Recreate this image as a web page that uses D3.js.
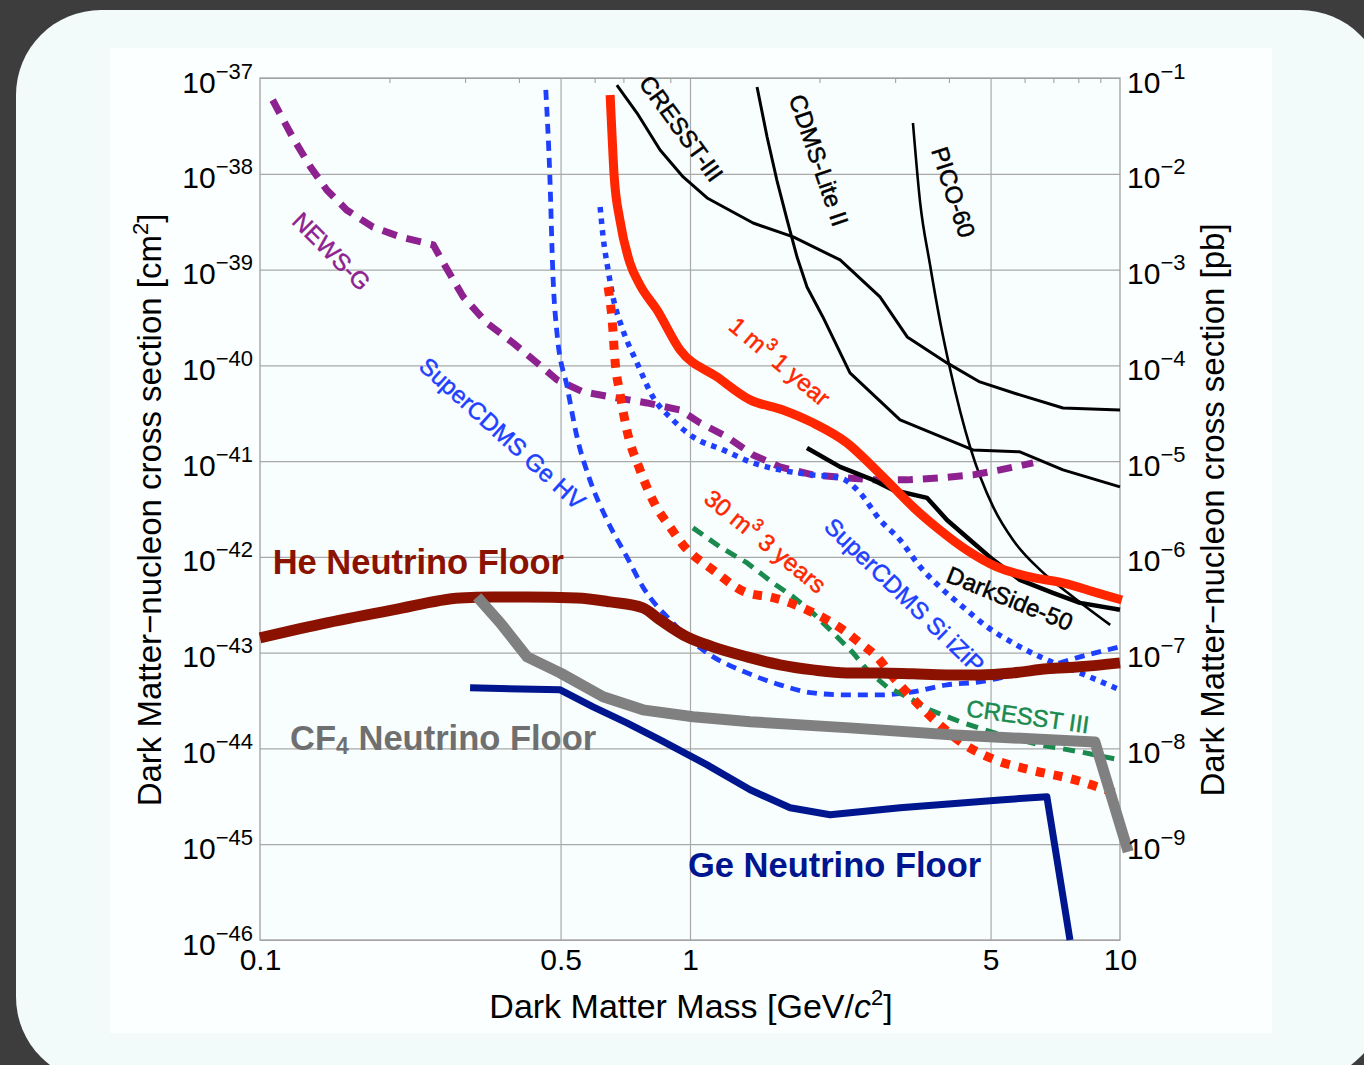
<!DOCTYPE html>
<html><head><meta charset="utf-8">
<script src="https://cdn.jsdelivr.net/npm/d3@7"></script>
<style>
body{margin:0;background:#3d3d3d;}
svg{display:block;font-family:"Liberation Sans",Arial,Helvetica,sans-serif;}
</style>
</head><body>
<svg id="chart" width="1364" height="1065"></svg>
<script>
// ---------------- data: [mass GeV/c^2, cross section cm^2] ----------------
const cresst3Black = [[0.676,8.45e-38],[0.753,4.31e-38],[0.852,1.77e-38],[0.964,9.26e-39],[1.096,5.59e-39],[1.402,3.06e-39],[1.738,2.19e-39],[2.234,1.26e-39],[2.766,5.18e-40],[3.20,1.98e-40],[3.96,1.06e-40],[4.72,6.71e-41],[5.85,4.91e-41],[7.37,3.59e-41],[10,3.42e-41]];
const cdmsLite = [[1.432,8.05e-38],[1.511,2.42e-38],[1.592,8.61e-39],[1.682,3.30e-39],[1.774,1.35e-39],[1.871,6.57e-40],[2.037,3.20e-40],[2.355,8.34e-41],[3.08,2.69e-41],[4.55,1.31e-41],[5.85,1.25e-41],[7.37,8.10e-42],[10,5.38e-42]];
const pico60 = [[3.30,3.39e-38],[3.43,4.96e-39],[3.61,1.17e-39],[3.81,2.98e-40],[4.03,8.95e-41],[4.48,1.41e-41],[5.07,3.33e-42],[5.64,1.50e-42],[6.52,7.31e-43],[7.78,3.82e-43],[9.49,1.95e-43]];
const darkSide50 = [[1.871,1.37e-41],[2.234,8.70e-42],[2.664,6.37e-42],[2.966,5.00e-42],[3.56,4.13e-42],[3.96,2.43e-42],[4.48,1.50e-42],[5.07,9.30e-43],[5.85,5.75e-43],[6.98,4.21e-43],[8.07,3.31e-43],[10,2.80e-43]];
const newsG = [[0.107,5.89e-38],[0.119,2.42e-38],[0.131,1.18e-38],[0.143,6.78e-39],[0.159,4.19e-39],[0.183,2.78e-39],[0.212,2.19e-39],[0.253,1.81e-39],[0.267,1.17e-39],[0.297,5.18e-40],[0.337,2.77e-40],[0.388,1.71e-40],[0.441,1.06e-40],[0.491,7.05e-41],[0.564,5.28e-41],[0.676,4.57e-41],[0.794,4.05e-41],[0.948,3.42e-41],[1.055,2.51e-41],[1.219,1.79e-41],[1.402,1.16e-41],[1.619,8.70e-42],[1.931,7.18e-42],[2.317,6.68e-42],[2.664,6.37e-42],[3.20,6.37e-42],[3.81,6.68e-42],[4.55,7.18e-42],[5.26,8.10e-42],[6.28,9.57e-42]];
const superCdmsGeHV = [[0.462,7.50e-38],[0.472,9.70e-39],[0.480,8.79e-40],[0.491,2.08e-40],[0.518,5.96e-41],[0.546,1.79e-41],[0.585,6.37e-42],[0.641,2.43e-42],[0.713,1.0e-42],[0.777,4.86e-43],[0.912,2.05e-43],[1.096,9.95e-44],[1.358,6.15e-44],[1.619,4.61e-44],[1.931,3.80e-44],[2.317,3.62e-44],[2.766,3.62e-44],[3.30,3.90e-44],[3.96,4.61e-44],[4.72,4.96e-44],[5.64,5.86e-44],[6.76,7.11e-44],[8.07,9.04e-44],[10,1.15e-43]];
const superCdmsSiIZIP = [[0.618,4.50e-39],[0.628,2.19e-39],[0.645,9.91e-40],[0.662,5.18e-40],[0.698,2.34e-40],[0.753,1.06e-40],[0.820,4.68e-41],[0.912,2.69e-41],[1.016,1.79e-41],[1.194,1.31e-41],[1.402,9.57e-42],[1.619,8.10e-42],[1.931,7.18e-42],[2.234,6.68e-42],[2.485,4.66e-42],[2.766,2.43e-42],[3.08,1.50e-42],[3.43,7.86e-43],[3.81,4.86e-43],[4.31,3.01e-43],[4.91,1.86e-43],[5.64,1.26e-43],[6.76,8.41e-44],[8.07,6.15e-44],[10,4.09e-44]];
const cresst3Green = [[1.016,2.01e-42],[1.174,1.27e-42],[1.358,8.65e-43],[1.560,5.35e-43],[1.738,3.82e-43],[1.931,2.60e-43],[2.153,1.61e-43],[2.395,9.95e-44],[2.582,6.61e-44],[2.871,4.39e-44],[3.20,3.46e-44],[3.61,2.53e-44],[4.25,1.90e-44],[5.26,1.39e-44],[6.52,1.09e-44],[8.07,9.22e-45],[10,7.60e-45]];
const news30m3 = [[0.645,6.57e-40],[0.659,2.98e-40],[0.670,1.06e-40],[0.687,5.15e-41],[0.713,2.12e-41],[0.765,8.10e-42],[0.830,3.49e-42],[0.898,2.06e-42],[0.964,1.33e-42],[1.130,7.31e-43],[1.358,4.21e-43],[1.535,3.82e-43],[1.709,3.31e-43],[1.871,2.80e-43],[2.083,2.20e-43],[2.270,1.73e-43],[2.485,1.26e-43],[2.721,9.04e-44],[2.966,5.58e-44],[3.37,2.99e-44],[3.81,1.76e-44],[4.36,1.09e-44],[5.12,7.60e-45],[6.18,5.98e-45],[7.86,4.70e-45],[10,3.28e-45]];
const news1m3 = [[0.652,6.65e-38],[0.659,2.42e-38],[0.666,9.70e-39],[0.687,3.30e-39],[0.725,1.17e-39],[0.765,6.90e-40],[0.838,3.79e-40],[0.948,1.45e-40],[1.156,7.57e-41],[1.380,4.36e-41],[1.645,3.42e-41],[1.931,2.51e-41],[2.317,1.55e-41],[2.664,8.70e-42],[2.966,5.38e-42],[3.30,3.33e-42],[3.81,1.91e-42],[4.40,1.18e-42],[5.17,7.86e-43],[6.18,6.18e-43],[7.37,5.35e-43],[8.85,4.21e-43],[10.1,3.55e-43]];
const heFloor = [[0.1,1.43e-43],[0.143,2.05e-43],[0.204,2.80e-43],[0.292,3.73e-43],[0.348,3.82e-43],[0.418,3.82e-43],[0.546,3.73e-43],[0.652,3.39e-43],[0.777,2.94e-43],[0.852,2.20e-43],[0.984,1.46e-43],[1.130,1.15e-43],[1.358,9.04e-44],[1.619,7.46e-44],[1.931,6.61e-44],[2.317,6.15e-44],[2.766,6.15e-44],[3.30,6.01e-44],[3.96,5.86e-44],[4.72,5.86e-44],[5.64,6.15e-44],[6.76,6.78e-44],[8.07,7.11e-44],[10,7.82e-44]];
const geFloor = [[0.308,4.30e-44],[0.499,4.09e-44],[0.595,2.72e-44],[0.713,1.85e-44],[0.852,1.23e-44],[1.096,6.74e-45],[1.380,3.70e-45],[1.709,2.40e-45],[2.117,2.03e-45],[3.08,2.40e-45],[5.26,2.90e-45],[6.76,3.13e-45],[7.65,1.0e-46]];
const cf4Floor = [[0.320,3.82e-43],[0.362,2.05e-43],[0.418,9.04e-44],[0.499,6.15e-44],[0.628,3.46e-44],[0.777,2.53e-44],[1.016,2.14e-44],[1.380,1.90e-44],[2.355,1.64e-44],[4.03,1.39e-44],[6.87,1.23e-44],[8.74,1.17e-44],[10.45,8.34e-46]];

// ticks
const xTickValues = [0.1, 0.5, 1, 5, 10];
const xTickLabels = ["0.1", "0.5", "1", "5", "10"];
const xGridValues = [0.5, 1, 5];
const xMinorValues = [0.2,0.3,0.4,0.6,0.7,0.8,0.9,2,3,4,6,7,8,9];
const yLeftExponents = [-37,-38,-39,-40,-41,-42,-43,-44,-45,-46];
const yRightExponents = [-1,-2,-3,-4,-5,-6,-7,-8,-9];

// ---------------- layout ----------------
const svg = d3.select("#chart");
const plot = {l:260, r:1120, t:78, b:940};

svg.append("rect").attr("x",16).attr("y",10).attr("width",1369).attr("height",1072).attr("rx",85).attr("fill","#f3fafa");
svg.append("rect").attr("x",110).attr("y",48).attr("width",1162).attr("height",985).attr("fill","#fbffff");

const x = d3.scaleLog().domain([0.1,10]).range([plot.l, plot.r]);
const y = d3.scaleLog().domain([1e-46,1e-37]).range([plot.b, plot.t]);
const yR = d3.scaleLog().domain([1e-10,1e-1]).range([plot.b, plot.t]);

svg.append("rect").attr("x",plot.l).attr("y",plot.t).attr("width",plot.r-plot.l).attr("height",plot.b-plot.t).attr("fill","#f8fefe");

// grid
const gridColor = "#a9a9a9";
const gx = svg.append("g").attr("transform",`translate(0,${plot.b})`)
  .call(d3.axisBottom(x).tickValues(xGridValues).tickSize(-(plot.b-plot.t)).tickFormat(""));
gx.select(".domain").remove();
gx.selectAll("line").attr("stroke",gridColor).attr("stroke-width",1.2);
const gy = svg.append("g").attr("transform",`translate(${plot.l},0)`)
  .call(d3.axisLeft(y).tickValues(yLeftExponents.map(e=>Math.pow(10,e))).tickSize(-(plot.r-plot.l)).tickFormat(""));
gy.select(".domain").remove();
gy.selectAll("line").attr("stroke",gridColor).attr("stroke-width",1.2);

const gt = svg.append("g").attr("transform",`translate(0,${plot.t})`)
  .call(d3.axisTop(x).tickValues(xMinorValues).tickSize(-5).tickFormat(""));
gt.select(".domain").remove();
gt.selectAll("line").attr("stroke","#999").attr("stroke-width",1);

svg.append("rect").attr("x",plot.l).attr("y",plot.t).attr("width",plot.r-plot.l).attr("height",plot.b-plot.t)
  .attr("fill","none").attr("stroke","#a0a0a0").attr("stroke-width",1.3);

// ---------------- curves ----------------
const lineLin = d3.line().x(d=>x(d[0])).y(d=>y(d[1]));
const lineSmooth = d3.line().x(d=>x(d[0])).y(d=>y(d[1])).curve(d3.curveMonotoneX);

function draw(data, gen, color, width, dash) {
  svg.append("path").datum(data).attr("d", gen).attr("fill","none")
    .attr("stroke",color).attr("stroke-width",width)
    .attr("stroke-dasharray", dash || null)
    .attr("stroke-linecap","butt").attr("stroke-linejoin","round");
}
const C = {purple:"#8e2190", blue:"#1f3fff", red:"#ff2600", green:"#1a8a4e", black:"#000", he:"#8b1200", gray:"#808080", ge:"#00168f"};

draw(cresst3Black, lineLin, C.black, 3);
draw(cdmsLite, lineLin, C.black, 3);
draw(pico60, lineSmooth, C.black, 2.6);
draw(newsG, lineLin, C.purple, 7, "15 10");
draw(superCdmsGeHV, lineSmooth, C.blue, 4.8, "10 7");
draw(superCdmsSiIZIP, lineSmooth, C.blue, 5.5, "5.5 6");
draw(cresst3Green, lineLin, C.green, 5, "12 8");
draw(news30m3, lineSmooth, C.red, 9, "9 9");
draw(darkSide50, lineLin, C.black, 4.5);
draw(news1m3, lineSmooth, C.red, 9);
draw(heFloor, lineSmooth, C.he, 11);
draw(geFloor, lineLin, C.ge, 7);
draw(cf4Floor, lineLin, C.gray, 11);

// ---------------- axes labels ----------------
const tickFont = 30, supFont = 22;
const ax = svg.append("g").attr("transform",`translate(0,${plot.b})`)
  .call(d3.axisBottom(x).tickValues(xTickValues).tickSize(0).tickFormat((d,i)=>xTickLabels[i]));
ax.select(".domain").remove();
ax.selectAll("text").attr("y",30).attr("dy",null).attr("font-size",tickFont).attr("font-family","Liberation Sans, Arial, sans-serif").attr("fill","#000");

function powLabels(g) {
  g.select(".domain").remove();
  g.selectAll(".tick text").each(function(d){
    const e = Math.round(Math.log10(d));
    const t = d3.select(this).text(null).attr("dy",null).attr("y",14)
      .attr("font-size",tickFont).attr("font-family","Liberation Sans, Arial, sans-serif").attr("fill","#000");
    t.append("tspan").text("10");
    t.append("tspan").attr("dy",-14).attr("font-size",supFont).text("\u2212" + Math.abs(e));
  });
}
const al = svg.append("g").attr("transform",`translate(${plot.l},0)`)
  .call(d3.axisLeft(y).tickValues(yLeftExponents.map(e=>Math.pow(10,e))).tickSize(0).tickPadding(7));
powLabels(al);
const ar = svg.append("g").attr("transform",`translate(${plot.r},0)`)
  .call(d3.axisRight(yR).tickValues(yRightExponents.map(e=>Math.pow(10,e))).tickSize(0).tickPadding(7));
powLabels(ar);

const xt = svg.append("text").attr("x",691).attr("y",1018).attr("text-anchor","middle").attr("font-size",34).attr("fill","#000");
xt.append("tspan").text("Dark Matter Mass [GeV/");
xt.append("tspan").attr("font-style","italic").text("c");
xt.append("tspan").attr("dy",-13).attr("font-size",22).text("2");
xt.append("tspan").attr("dy",13).text("]");

const ylt = svg.append("text").attr("transform","translate(161,510) rotate(-90)").attr("text-anchor","middle").attr("font-size",33).attr("fill","#000");
ylt.append("tspan").text("Dark Matter\u2212nucleon cross section [cm");
ylt.append("tspan").attr("dy",-13).attr("font-size",22).text("2");
ylt.append("tspan").attr("dy",13).text("]");

svg.append("text").attr("transform","translate(1224,510) rotate(-90)").attr("text-anchor","middle").attr("font-size",33).attr("fill","#000")
  .text("Dark Matter\u2212nucleon cross section [pb]");

// ---------------- curve labels (anchored in data coordinates) ----------------
const curveLabels = [
  {parts:[["NEWS-G"]], m:0.147, s:1.56e-39, rot:45, color:C.purple},
  {parts:[["SuperCDMS Ge HV"]], m:0.367, s:1.97e-41, rot:42, color:C.blue},
  {parts:[["CRESST-III"]], m:0.957, s:3.0e-38, rot:54, color:C.black},
  {parts:[["CDMS-Lite II"]], m:2.0, s:1.39e-38, rot:71, color:C.black},
  {parts:[["PICO-60"]], m:4.11, s:6.46e-39, rot:72, color:C.black},
  {parts:[["1 m"],["3","sup"],[" 1 year"]], m:1.62, s:1.11e-40, rot:40, color:C.red},
  {parts:[["30 m"],["3","sup"],[" 3 years"]], m:1.50, s:1.47e-42, rot:39, color:C.red},
  {parts:[["SuperCDMS Si iZiP"]], m:3.16, s:4.01e-43, rot:44, color:C.blue},
  {parts:[["DarkSide-50"]], m:5.55, s:3.73e-43, rot:22, color:C.black},
  {parts:[["CRESST III"]], m:6.11, s:2.19e-44, rot:8, color:C.green}
];
curveLabels.forEach(L=>{
  const t = svg.append("text")
    .attr("transform",`translate(${x(L.m)},${y(L.s)}) rotate(${L.rot})`)
    .attr("text-anchor","middle").attr("dominant-baseline","central")
    .attr("font-size",24).attr("fill",L.color)
    .attr("stroke",L.color).attr("stroke-width",0.5);
  L.parts.forEach(p=>{
    const sp = t.append("tspan").text(p[0]);
    if (p[1]==="sup") { sp.attr("font-size",17).attr("dy",-8); }
    else if (t.selectAll("tspan").size()>1) { sp.attr("dy",8); }
  });
});

const floorLabels = [
  {parts:[["He Neutrino Floor"]], m:0.107, s:6.64e-43, color:C.he},
  {parts:[["CF"],["4","sub"],[" Neutrino Floor"]], m:0.1175, s:9.66e-45, color:"#6f6f6f"},
  {parts:[["Ge Neutrino Floor"]], m:0.989, s:4.57e-46, color:C.ge}
];
floorLabels.forEach(L=>{
  const t = svg.append("text").attr("x",x(L.m)).attr("y",y(L.s))
    .attr("font-size",34.5).attr("font-weight","bold").attr("fill",L.color);
  L.parts.forEach(p=>{
    const sp = t.append("tspan").text(p[0]);
    if (p[1]==="sub") { sp.attr("font-size",23).attr("dy",4); }
    else if (t.selectAll("tspan").size()>1) { sp.attr("dy",-4); }
  });
});
</script>
</body></html>
